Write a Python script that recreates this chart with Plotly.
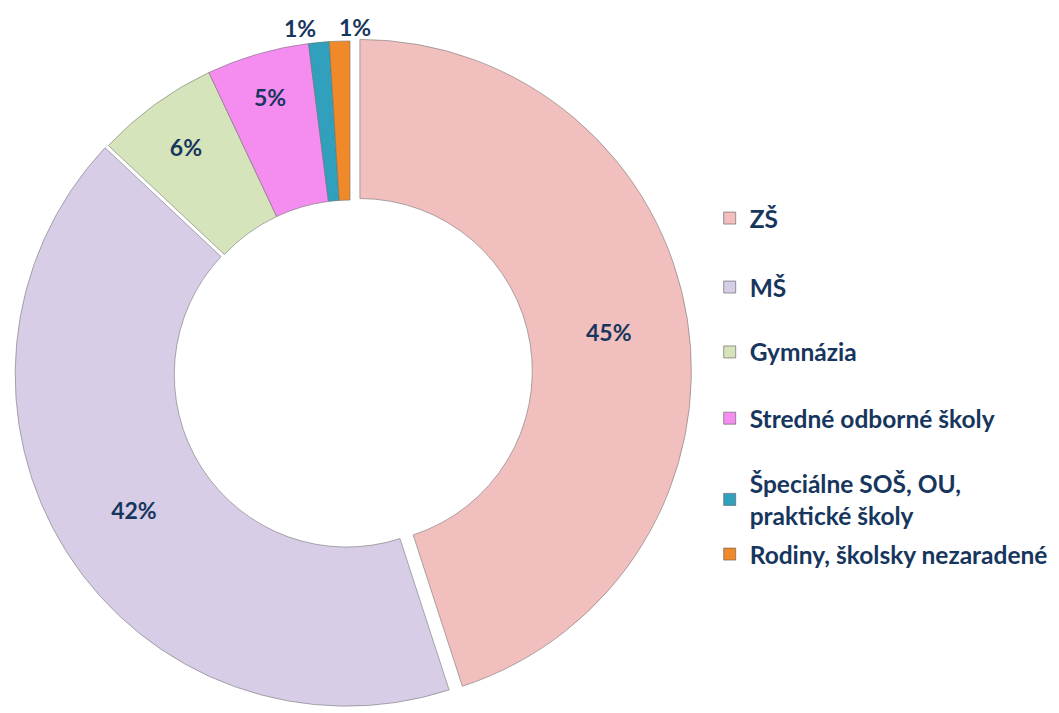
import math
import plotly.graph_objects as go

categories = ["ZŠ", "MŠ", "Gymnázia", "Stredné odborné školy",
              "Špeciálne SOŠ, OU, praktické školy", "Rodiny, školsky nezaradené"]
legend_labels = ["ZŠ", "MŠ", "Gymnázia", "Stredné odborné školy",
                 "Špeciálne SOŠ, OU,<br>praktické školy", "Rodiny, školsky nezaradené"]
values = [45, 42, 6, 5, 1, 1]
colors = ["#F2BFBF", "#D8CDE6", "#D6E4BB", "#F58DF1", "#31A0BC", "#F0892A"]
pulls = [0.03, 0.012, 0, 0, 0, 0]
outside = [False, False, False, False, True, True]
legend_y = [0.726, 0.625, 0.530, 0.433, 0.314, 0.234]

TEXT_COLOR = "#17365D"
FONT = "Lato"
W, H = 1059, 713
M = dict(l=0, r=0, t=23, b=7)
DOM_X = [0.0, 0.646]
DOM_Y = [0.0, 1.0]

fig = go.Figure()
fig.add_trace(go.Pie(
    labels=categories, values=values, hole=0.52, sort=False,
    direction="clockwise", rotation=0, pull=pulls,
    marker=dict(colors=colors, line=dict(color="rgba(110,110,110,0.55)", width=1)),
    texttemplate=["" if o else "%{percent:.0%}" for o in outside],
    textposition="inside", insidetextorientation="horizontal",
    textfont=dict(family=FONT, size=23, color=TEXT_COLOR, weight="bold"),
    showlegend=False, domain=dict(x=DOM_X, y=DOM_Y),
))

# labels of the thin slices, placed just outside the ring at each slice's mid-angle
pw = W - M["l"] - M["r"]
ph = H - M["t"] - M["b"]
r_px = min(pw * (DOM_X[1] - DOM_X[0]), ph * (DOM_Y[1] - DOM_Y[0])) / 2 / (1 + max(pulls))
cxp = sum(DOM_X) / 2
cyp = sum(DOM_Y) / 2
total = sum(values)
annotations = []
cum = 0
first_out = True
for v, o in zip(values, outside):
    if o:
        theta = 2 * math.pi * (cum + v / 2) / total
        R = r_px + 14
        x = cxp + R * math.sin(theta) / pw
        y = cyp + R * math.cos(theta) / ph
        annotations.append(dict(
            x=x, y=y, xref="paper", yref="paper", showarrow=False,
            text=f"{round(100 * v / total)}%",
            xanchor="right" if first_out else "left", yanchor="middle",
            xshift=0 if first_out else -2,
            font=dict(family=FONT, size=23, color=TEXT_COLOR, weight="bold"),
        ))
        first_out = False
    cum += v

layout_legends = {}
for i, (lab, col, ly) in enumerate(zip(legend_labels, colors, legend_y)):
    lname = "legend" if i == 0 else f"legend{i+1}"
    fig.add_trace(go.Scatter(
        x=[None], y=[None], mode="markers", name=lab,
        marker=dict(symbol="square", size=12, color=col,
                    line=dict(color="rgba(90,90,90,0.6)", width=1)),
        legend=lname, showlegend=True, hoverinfo="skip",
    ))
    layout_legends[lname] = dict(
        x=0.6626, y=ly, xanchor="left", yanchor="middle",
        bgcolor="rgba(0,0,0,0)", borderwidth=0,
        font=dict(family=FONT, size=24.5, color=TEXT_COLOR, weight="bold"),
        itemwidth=30, itemclick=False, itemdoubleclick=False,
    )

fig.update_layout(
    width=W, height=H,
    margin=dict(l=M["l"], r=M["r"], t=M["t"], b=M["b"], autoexpand=False),
    paper_bgcolor="white", plot_bgcolor="white",
    xaxis=dict(visible=False), yaxis=dict(visible=False),
    annotations=annotations,
    **layout_legends,
)

fig.write_html("out.html")
